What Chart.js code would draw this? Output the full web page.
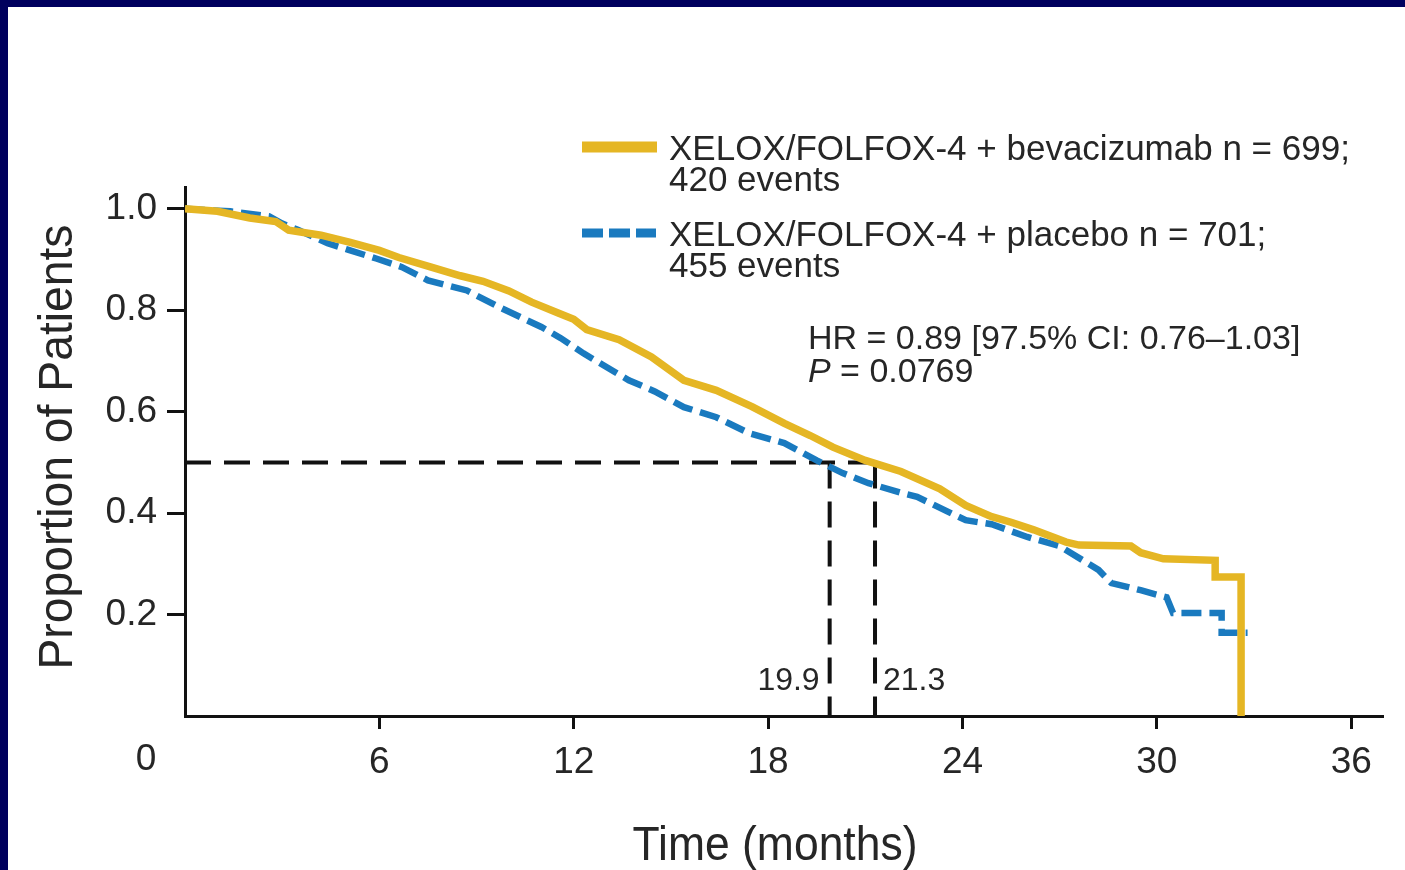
<!DOCTYPE html>
<html>
<head>
<meta charset="utf-8">
<script src="https://cdn.jsdelivr.net/npm/chart.js@4.4.0/dist/chart.umd.min.js"></script>
<style>
  html, body { margin: 0; padding: 0; background: #fff; }
  body { overflow: hidden; }
  .bar { position: absolute; background: #00005e; }
  #topbar { left: 0; top: 0; width: 100vw; height: 7px; }
  #leftbar { left: 0; top: 0; width: 8px; height: 100vh; }
  #km { position: absolute; left: 8px; top: 7px; }
</style>
</head>
<body>
<div id="topbar" class="bar"></div>
<div id="leftbar" class="bar"></div>
<canvas id="km" width="1397" height="863"></canvas>
<script>
// Kaplan-Meier curves (months, proportion)
var bevMonths = [0, 1.0, 2.0, 2.8, 3.2, 4.2, 5.1, 6.0, 6.6, 7.6, 8.5, 9.2, 10.0, 10.7, 11.5, 12.0, 12.4, 13.4, 14.4, 15.4, 16.4, 17.5, 18.5, 19.3, 20.0, 21.0, 22.1, 23.3, 24.1, 24.9, 25.5, 26.2, 27.2, 27.6, 29.2, 29.5, 30.2, 31.8, 31.8, 32.6, 32.6];
var bevSurv = [1.0, 0.995, 0.982, 0.975, 0.958, 0.948, 0.934, 0.918, 0.904, 0.885, 0.868, 0.857, 0.838, 0.816, 0.795, 0.782, 0.762, 0.742, 0.708, 0.662, 0.642, 0.61, 0.577, 0.553, 0.53, 0.504, 0.482, 0.448, 0.415, 0.393, 0.382, 0.367, 0.343, 0.337, 0.335, 0.322, 0.31, 0.307, 0.274, 0.274, 0];

var plaMonths = [0, 1.4, 2.6, 3.0, 3.5, 4.4, 5.0, 5.9, 6.7, 7.5, 8.7, 9.7, 11.0, 11.6, 12.3, 12.8, 13.7, 14.5, 15.4, 16.4, 17.4, 18.5, 19.5, 20.3, 21.1, 22.1, 22.6, 24.1, 24.9, 26.0, 27.0, 28.2, 28.6, 29.5, 30.3, 30.5, 32.0, 32.0, 32.8];
var plaSurv = [1.0, 0.995, 0.985, 0.971, 0.958, 0.932, 0.92, 0.902, 0.885, 0.859, 0.839, 0.806, 0.767, 0.745, 0.715, 0.696, 0.662, 0.64, 0.609, 0.589, 0.558, 0.538, 0.504, 0.479, 0.459, 0.44, 0.432, 0.386, 0.378, 0.353, 0.335, 0.288, 0.262, 0.248, 0.234, 0.203, 0.203, 0.164, 0.164];

var medianLevel = 0.5;
var medianMonths = [19.9, 21.3];

var xTicks = [0, 6, 12, 18, 24, 30, 36];
var yTicks = [0.2, 0.4, 0.6, 0.8, 1.0];

var legendLines = [
    ['XELOX/FOLFOX-4 + bevacizumab n = 699;', '420 events'],
    ['XELOX/FOLFOX-4 + placebo n = 701;', '455 events']
];
var hrText = 'HR = 0.89 [97.5% CI: 0.76\u20131.03]';
var pText = ' = 0.0769';

var gold = '#e5b624';
var blue = '#1a7abf';
var ink = '#262626';
var font = '"Liberation Sans", Arial, sans-serif';

function toPoints(xs, ys) {
    var pts = [];
    for (var i = 0; i < xs.length; i++) {
        pts.push({x: xs[i], y: ys[i]});
    }
    return pts;
}

var medianSets = [{
    data: [{x: 0, y: medianLevel}, {x: medianMonths[1], y: medianLevel}]
}];
for (var m = 0; m < medianMonths.length; m++) {
    medianSets.push({data: [{x: medianMonths[m], y: medianLevel}, {x: medianMonths[m], y: 0}]});
}

var datasets = [
    {label: 'bev', data: toPoints(bevMonths, bevSurv), borderColor: gold, borderWidth: 7.5},
    {label: 'placebo', data: toPoints(plaMonths, plaSurv), borderColor: blue, borderWidth: 6.5, borderDash: [20, 8]}
];
medianSets.forEach(function (d) {
    d.borderColor = '#111';
    d.borderWidth = 4;
    d.borderDash = [26, 13];
    datasets.push(d);
});
datasets.forEach(function (d) {
    d.pointRadius = 0;
    d.fill = false;
    d.tension = 0;
    d.borderCapStyle = 'butt';
});

function squeezed(ctx, text, w, size) {
    ctx.font = size + 'px ' + font;
    var s = w / ctx.measureText(text).width;
    ctx.scale(s, 1);
    ctx.fillText(text, 0, 0);
}

var extras = {
    id: 'extras',
    afterDraw: function (chart) {
        var ctx = chart.ctx;
        var xs = chart.scales.x, ys = chart.scales.y;
        ctx.save();
        ctx.fillStyle = ink;

        // "0" sits left of the origin
        ctx.font = '37px ' + font;
        ctx.textAlign = 'center';
        ctx.textBaseline = 'top';
        ctx.fillText(String(xTicks[0]), xs.getPixelForValue(0) - 39, ys.bottom + 25);

        // legend
        ctx.lineCap = 'butt';
        ctx.strokeStyle = gold;
        ctx.lineWidth = 11;
        ctx.beginPath(); ctx.moveTo(574, 140); ctx.lineTo(649, 140); ctx.stroke();
        ctx.strokeStyle = blue;
        ctx.lineWidth = 9;
        ctx.setLineDash([21, 6]);
        ctx.beginPath(); ctx.moveTo(574, 226); ctx.lineTo(648, 226); ctx.stroke();
        ctx.setLineDash([]);
        ctx.font = '35px ' + font;
        ctx.textAlign = 'left';
        ctx.textBaseline = 'alphabetic';
        ctx.fillText(legendLines[0][0], 661, 153);
        ctx.fillText(legendLines[0][1], 661, 184);
        ctx.fillText(legendLines[1][0], 661, 239);
        ctx.fillText(legendLines[1][1], 661, 270);

        // HR and P value
        ctx.font = '34px ' + font;
        ctx.fillText(hrText, 800, 342);
        ctx.font = 'italic 34px ' + font;
        ctx.fillText('P', 800, 375);
        var pw = ctx.measureText('P').width;
        ctx.font = '34px ' + font;
        ctx.fillText(pText, 800 + pw, 375);

        // median labels
        ctx.font = '32px ' + font;
        ctx.textAlign = 'right';
        ctx.fillText(medianMonths[0].toFixed(1), xs.getPixelForValue(medianMonths[0]) - 10, ys.bottom - 26);
        ctx.textAlign = 'left';
        ctx.fillText(medianMonths[1].toFixed(1), xs.getPixelForValue(medianMonths[1]) + 8, ys.bottom - 26);

        // axis titles
        ctx.textAlign = 'center';
        ctx.save();
        ctx.translate(767, 853);
        squeezed(ctx, 'Time (months)', 285, 49);
        ctx.restore();
        ctx.save();
        ctx.translate(64, 440);
        ctx.rotate(-Math.PI / 2);
        squeezed(ctx, 'Proportion of Patients', 445, 49);
        ctx.restore();

        ctx.restore();
    }
};

new Chart(document.getElementById('km'), {
    type: 'line',
    data: {datasets: datasets},
    options: {
        responsive: false,
        animation: false,
        layout: {padding: {top: 180, right: 23, left: 0, bottom: 0}},
        plugins: {legend: {display: false}, tooltip: {enabled: false}},
        scales: {
            x: {
                type: 'linear',
                min: 0,
                max: 36.95,
                afterBuildTicks: function (s) { s.ticks = xTicks.map(function (v) { return {value: v}; }); },
                afterFit: function (s) { s.height = 154; },
                border: {color: '#111', width: 3},
                grid: {
                    drawOnChartArea: false,
                    tickLength: 13,
                    lineWidth: 3,
                    color: function (c) { return c.tick && c.tick.value === 0 ? 'rgba(0,0,0,0)' : '#111'; }
                },
                ticks: {
                    autoSkip: false,
                    maxRotation: 0,
                    padding: 12,
                    color: ink,
                    font: {size: 37, family: font},
                    callback: function (v) { return v === 0 ? '' : String(v); }
                }
            },
            y: {
                min: 0,
                max: 1.043,
                afterBuildTicks: function (s) { s.ticks = yTicks.map(function (v) { return {value: v}; }); },
                afterFit: function (s) { s.width = 177; },
                border: {color: '#111', width: 3},
                grid: {drawOnChartArea: false, tickLength: 18, lineWidth: 3, color: '#111'},
                ticks: {
                    padding: 10,
                    color: ink,
                    font: {size: 37, family: font},
                    callback: function (v) { return v.toFixed(1); }
                }
            }
        }
    },
    plugins: [extras]
});
</script>
</body>
</html>
